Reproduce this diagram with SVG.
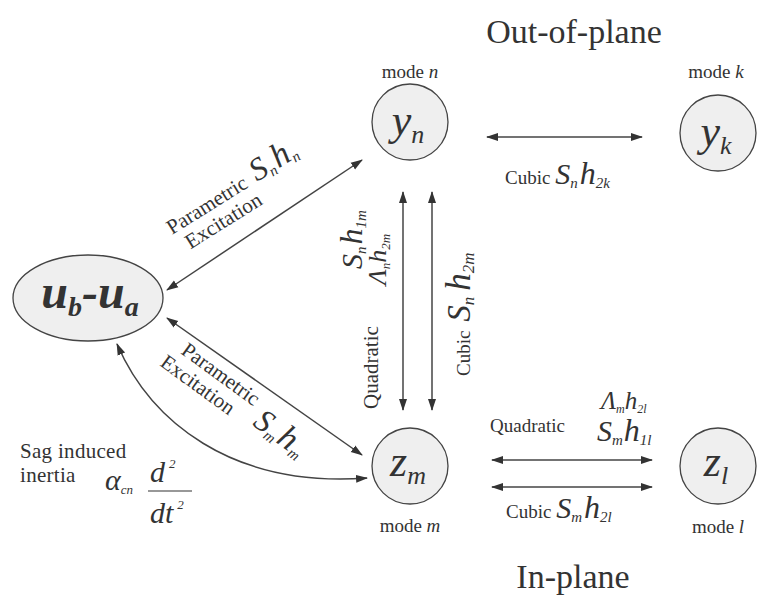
<svg xmlns="http://www.w3.org/2000/svg" width="770" height="602" viewBox="0 0 770 602">
<defs>
<marker id="ah" viewBox="0 0 12 10" refX="11" refY="5" markerWidth="12" markerHeight="10" markerUnits="userSpaceOnUse" orient="auto-start-reverse">
<path d="M0,1 L12,5 L0,9 Z" fill="#333"/>
</marker>
<style>
.node{fill:#efefef;stroke:#444;stroke-width:1.3}
.lbl{font-family:"Liberation Serif",serif;font-size:19px;fill:#333}
.lbl2{font-family:"Liberation Serif",serif;font-size:21px;fill:#333}
.big{font-family:"Liberation Serif",serif;font-size:34px;fill:#333}
.m{font-family:"Liberation Serif",serif;font-style:italic;fill:#333}
.var{font-family:"Liberation Serif",serif;font-style:italic;font-size:44px;fill:#333}
.con{fill:none;stroke:#444;stroke-width:1.5;marker-start:url(#ah);marker-end:url(#ah)}
</style>
</defs>
<rect width="770" height="602" fill="#fff"/>
<text class="big" x="574" y="43" text-anchor="middle">Out-of-plane</text>
<text class="big" x="573" y="588" text-anchor="middle">In-plane</text>

<g id="node-ub-ua">
<ellipse class="node" cx="88" cy="298" rx="75" ry="43"/>
<text class="var" x="90" y="308" text-anchor="middle" font-weight="bold" style="font-size:48px">u<tspan font-size="28" dy="8">b</tspan><tspan dy="-8">-u</tspan><tspan font-size="28" dy="8">a</tspan></text>
</g>
<g id="node-yn">
<text class="lbl" x="410" y="78" text-anchor="middle">mode <tspan font-style="italic">n</tspan></text>
<circle class="node" cx="410" cy="122" r="38"/>
<text class="var" x="408" y="135" text-anchor="middle">y<tspan font-size="26" dy="8">n</tspan></text>
</g>
<g id="node-yk">
<text class="lbl" x="716" y="78" text-anchor="middle">mode <tspan font-style="italic">k</tspan></text>
<circle class="node" cx="718" cy="133" r="38"/>
<text class="var" x="716" y="146" text-anchor="middle">y<tspan font-size="26" dy="8">k</tspan></text>
</g>
<g id="node-zm">
<circle class="node" cx="410" cy="466" r="38"/>
<text class="var" x="408" y="476" text-anchor="middle">z<tspan font-size="26" dy="8">m</tspan></text>
<text class="lbl" x="410" y="532" text-anchor="middle">mode <tspan font-style="italic">m</tspan></text>
</g>
<g id="node-zl">
<circle class="node" cx="718" cy="466" r="38"/>
<text class="var" x="716" y="476" text-anchor="middle">z<tspan font-size="26" dy="8">l</tspan></text>
<text class="lbl" x="718" y="533" text-anchor="middle">mode <tspan font-style="italic">l</tspan></text>
</g>

<g id="connectors">
<line class="con" x1="487" y1="137" x2="642" y2="137"/>
<line class="con" x1="403" y1="192" x2="403" y2="410"/>
<line class="con" x1="432" y1="192" x2="432" y2="410"/>
<line class="con" x1="167" y1="290" x2="362" y2="160"/>
<line class="con" x1="167" y1="318" x2="362" y2="455"/>
<line class="con" x1="492" y1="460" x2="652" y2="460"/>
<line class="con" x1="492" y1="487" x2="652" y2="487"/>
<path class="con" d="M117,344 C150,420 230,488 367,478"/>
</g>

<g id="labels">
<text class="lbl" x="505" y="184">Cubic <tspan class="m" font-size="30">S</tspan><tspan class="m" font-size="15" dy="4">n</tspan><tspan class="m" font-size="32" dy="-4" dx="2">h</tspan><tspan class="m" font-size="15" dy="4">2k</tspan></text>

<g transform="translate(378,409) rotate(-90)">
<text class="lbl2" x="0" y="0">Quadratic</text>
<text class="m" x="140" y="-16" font-size="30">S<tspan font-size="15" dy="4">n</tspan><tspan font-size="32" dy="-4" dx="2">h</tspan><tspan font-size="15" dy="4">1m</tspan></text>
<text class="m" x="124" y="8" font-size="26">Λ<tspan font-size="13" dy="4">n</tspan><tspan dy="-4">h</tspan><tspan font-size="13" dy="4">2m</tspan></text>
</g>
<g transform="translate(470,376) rotate(-90)">
<text class="lbl" x="0" y="0">Cubic <tspan class="m" font-size="33" dx="4">S</tspan><tspan class="m" font-size="17" dy="4">n</tspan><tspan class="m" font-size="35" dy="-4" dx="6">h</tspan><tspan class="m" font-size="17" dy="4">2m</tspan></text>
</g>

<g transform="translate(172,235) rotate(-32)">
<text class="lbl2" x="0" y="0">Parametric <tspan class="m" font-size="32" dx="4">S</tspan><tspan class="m" font-size="15" dy="4">n</tspan><tspan class="m" font-size="34" dy="-4" dx="2">h</tspan><tspan class="m" font-size="15" dy="4">n</tspan></text>
<text class="lbl2" x="8" y="22">Excitation</text>
</g>
<g transform="translate(180,353) rotate(36)">
<text class="lbl2" x="0" y="0">Parametric <tspan class="m" font-size="32" dy="16" dx="4">S</tspan><tspan class="m" font-size="15" dy="4">m</tspan><tspan class="m" font-size="34" dy="-4" dx="2">h</tspan><tspan class="m" font-size="15" dy="4">m</tspan></text>
<text class="lbl2" x="-10" y="22">Excitation</text>
</g>

<text class="lbl" x="490" y="432">Quadratic</text>
<text class="m" x="601" y="409" font-size="25">Λ<tspan font-size="12" dy="4">m</tspan><tspan dy="-4">h</tspan><tspan font-size="12" dy="4">2l</tspan></text>
<text class="m" x="597" y="441" font-size="30">S<tspan font-size="15" dy="4">m</tspan><tspan font-size="32" dy="-4" dx="1">h</tspan><tspan font-size="15" dy="4">1l</tspan></text>
<text class="lbl" x="506" y="518">Cubic <tspan class="m" font-size="30">S</tspan><tspan class="m" font-size="15" dy="4">m</tspan><tspan class="m" font-size="32" dy="-4" dx="2">h</tspan><tspan class="m" font-size="15" dy="4">2l</tspan></text>

<text class="lbl2" x="20" y="458" letter-spacing="0.3">Sag induced</text>
<text class="lbl2" x="20" y="482" letter-spacing="0.3">inertia</text>
<text class="m" x="105" y="490" font-size="30">α<tspan font-size="13" dy="4">cn</tspan></text>
<text class="m" x="150" y="482" font-size="30">d<tspan font-size="13" dy="-14" dx="4">2</tspan></text>
<line x1="148" y1="491" x2="192" y2="491" stroke="#333" stroke-width="1.2"/>
<text class="m" x="150" y="523" font-size="30">dt<tspan font-size="13" dy="-14" dx="4">2</tspan></text>
</g>
</svg>
